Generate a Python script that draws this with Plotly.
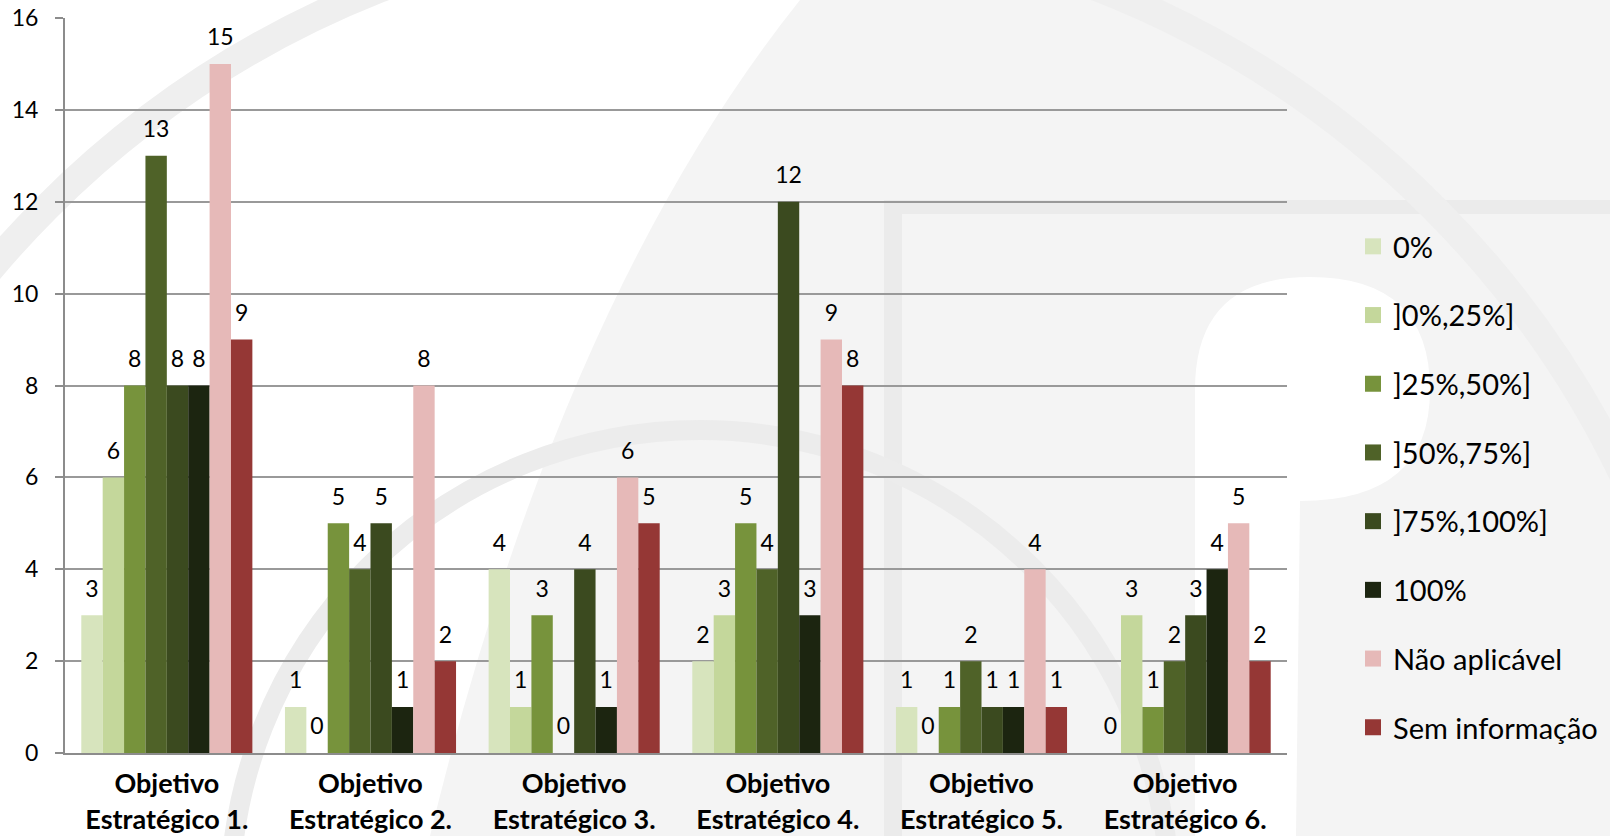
import plotly.graph_objects as go

categories = ["Objetivo Estratégico 1.", "Objetivo Estratégico 2.", "Objetivo Estratégico 3.",
              "Objetivo Estratégico 4.", "Objetivo Estratégico 5.", "Objetivo Estratégico 6."]
series_names = ["0%", "]0%,25%]", "]25%,50%]", "]50%,75%]", "]75%,100%]", "100%",
                "Não aplicável", "Sem informação"]
s_0 = [3, 1, 4, 2, 1, 0]
s_0_25 = [6, 0, 1, 3, 0, 3]
s_25_50 = [8, 5, 3, 5, 1, 1]
s_50_75 = [13, 4, 0, 4, 2, 2]
s_75_100 = [8, 5, 4, 12, 1, 3]
s_100 = [8, 1, 1, 3, 1, 4]
s_na = [15, 8, 6, 9, 4, 5]
s_si = [9, 2, 5, 8, 1, 2]
series_values = [s_0, s_0_25, s_25_50, s_50_75, s_75_100, s_100, s_na, s_si]
colors = ["#D7E4BD", "#C4D79B", "#77933C", "#4F6228", "#3B4A1F", "#1C2510", "#E6B9B8", "#953735"]
y_ticks = [0, 2, 4, 6, 8, 10, 12, 14, 16]

FONT = "Lato"
W, H = 1610, 836
L, R, T, B = 65, 1287, 18, 753  # plot area pixels
GAP = 0.16


def px(x):
    return (x - L) / (R - L)


def py(y):
    return (B - y) / (B - T)


fig = go.Figure()
for i, (name, vals, col) in enumerate(zip(series_names, series_values, colors)):
    fig.add_trace(go.Bar(
        x=categories, y=vals, name=name, marker=dict(color=col, line=dict(width=0)),
        offsetgroup=f"g{i}", showlegend=False, hoverinfo="x+y+name",
    ))
for i, (name, vals, col) in enumerate(zip(series_names, series_values, colors)):
    # data labels, aligned with the bars through the same offset groups
    fig.add_trace(go.Scatter(
        x=categories, y=vals, mode="markers+text", text=[str(v) for v in vals],
        textposition="top center", cliponaxis=False, offsetgroup=f"g{i}",
        marker=dict(size=19, color="rgba(0,0,0,0)"),
        textfont=dict(family=FONT, size=23, color="#000000"),
        showlegend=False, hoverinfo="skip",
    ))
for i, (name, col) in enumerate(zip(series_names, colors)):
    # legend entries with larger square keys
    fig.add_trace(go.Scatter(
        x=[None], y=[None], mode="markers", name=name,
        marker=dict(symbol="square", size=18, color=col),
        legendgroup=f"l{i}", showlegend=True,
    ))

ticktext = ["<b>" + c.split(" ", 1)[0] + "</b><br><b>" + c.split(" ", 1)[1] + "</b>" for c in categories]

# watermark shapes (decorative background)
shapes = []
grey = "#f4f4f4"
band = "#ebebeb"
shapes.append(dict(type="path", xref="paper", yref="paper", layer="below", line=dict(width=0),
                   fillcolor=grey,
                   path=f"M {px(800)} {py(0)} L {px(1610)} {py(0)} L {px(1610)} {py(836)} L {px(430)} {py(836)} "
                        f"Q {px(560)} {py(300)} {px(800)} {py(0)} Z"))
shapes.append(dict(type="path", xref="paper", yref="paper", layer="below", line=dict(width=0),
                   fillcolor="#ffffff",
                   path=f"M {px(1195)} {py(836)} L {px(1195)} {py(390)} Q {px(1195)} {py(277)} {px(1310)} {py(277)} "
                        f"Q {px(1430)} {py(277)} {px(1430)} {py(390)} Q {px(1430)} {py(501)} {px(1300)} {py(501)} "
                        f"L {px(1296)} {py(836)} Z"))
shapes.append(dict(type="rect", xref="paper", yref="paper", layer="below", line=dict(width=0),
                   fillcolor=band, x0=px(900), x1=px(1610), y0=py(200), y1=py(214)))
shapes.append(dict(type="rect", xref="paper", yref="paper", layer="below", line=dict(width=0),
                   fillcolor=band, x0=px(884), x1=px(902), y0=py(200), y1=py(836)))
cx, cy, r = 740, 900, 980
shapes.append(dict(type="circle", xref="paper", yref="paper", layer="below",
                   line=dict(color="#efefef", width=28), fillcolor="rgba(0,0,0,0)",
                   x0=px(cx - r), x1=px(cx + r), y0=py(cy + r), y1=py(cy - r)))
cx2, cy2, r2 = 700, 900, 470
shapes.append(dict(type="circle", xref="paper", yref="paper", layer="below",
                   line=dict(color="#ececec", width=20), fillcolor="rgba(0,0,0,0)",
                   x0=px(cx2 - r2), x1=px(cx2 + r2), y0=py(cy2 + r2), y1=py(cy2 - r2)))

fig.update_layout(
    width=W, height=H,
    margin=dict(l=L, r=W - R, t=T, b=H - B, pad=0, autoexpand=False),
    paper_bgcolor="#ffffff", plot_bgcolor="rgba(0,0,0,0)",
    barmode="group", bargap=GAP, bargroupgap=0,
    scattermode="group", scattergap=GAP,
    font=dict(family=FONT, color="#000000"),
    shapes=shapes,
    legend=dict(
        x=px(1353), y=py(221), xanchor="left", yanchor="top",
        font=dict(family=FONT, size=29, color="#000000"),
        bgcolor="rgba(0,0,0,0)", tracegroupgap=28, traceorder="grouped",
        itemsizing="trace",
    ),
    xaxis=dict(
        tickmode="array", tickvals=categories, ticktext=ticktext,
        tickfont=dict(family=FONT, size=27, color="#000000"),
        showline=True, linecolor="#8c8c8c", linewidth=2, ticks="",
        showgrid=False, automargin=False, ticklabelstandoff=6,
    ),
    yaxis=dict(
        range=[0, 16], tickvals=y_ticks, ticktext=[str(v) for v in y_ticks],
        tickfont=dict(family=FONT, size=23, color="#000000"),
        showgrid=True, gridcolor="#999999", gridwidth=2,
        showline=True, linecolor="#8c8c8c", linewidth=2,
        ticks="outside", ticklen=8, tickcolor="#8c8c8c", tickwidth=2,
        ticklabelstandoff=12, zeroline=False, automargin=False,
    ),
)

fig.write_html("out.html")
